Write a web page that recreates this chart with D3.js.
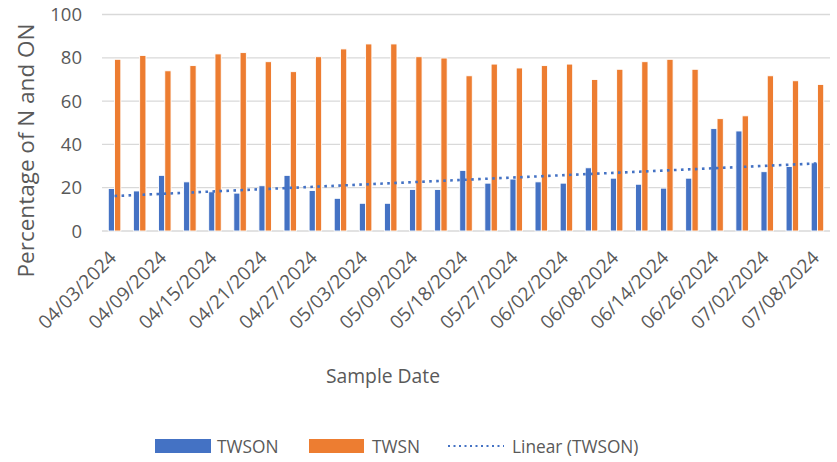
<!DOCTYPE html>
<html>
<head>
<meta charset="utf-8">
<script src="https://cdn.jsdelivr.net/npm/d3@7"></script>
<style>
  body { margin: 0; background: #fff; }
  svg text { font-family: "Open Sans", sans-serif; fill: #595959; }
</style>
</head>
<body>
<div id="chart"></div>
<script>
// sample dates (every other one is labelled on the axis)
var dates = ["04/03/2024", "04/06/2024", "04/09/2024", "04/12/2024", "04/15/2024", "04/18/2024",
  "04/21/2024", "04/24/2024", "04/27/2024", "04/30/2024", "05/03/2024", "05/06/2024",
  "05/09/2024", "05/13/2024", "05/18/2024", "05/22/2024", "05/27/2024", "05/30/2024",
  "06/02/2024", "06/05/2024", "06/08/2024", "06/11/2024", "06/14/2024", "06/20/2024",
  "06/26/2024", "06/29/2024", "07/02/2024", "07/05/2024", "07/08/2024"];

var twson = [19.6, 18.5, 25.7, 22.7, 18.1, 17.5, 20.9, 25.7, 18.7, 15.1, 12.8, 12.8, 19.2, 19.2,
  28.0, 22.1, 24.0, 22.7, 22.1, 29.2, 24.4, 21.6, 19.8, 24.4, 47.3, 46.2, 27.4, 29.8, 31.5];

var twsn = [79.3, 81.1, 74.0, 76.4, 81.8, 82.4, 78.2, 73.6, 80.5, 84.1, 86.4, 86.4, 80.5, 79.9,
  71.7, 77.1, 75.3, 76.4, 77.1, 70.0, 74.7, 78.2, 79.3, 74.7, 51.9, 53.2, 71.7, 69.4, 67.7];

var seriesNames = ["TWSON", "TWSN"];
var yTicks = [0, 20, 40, 60, 80, 100];

var width = 837, height = 462;
var colour = { TWSON: "#4472C4", TWSN: "#ED7D31" };

var svg = d3.select("#chart").append("svg")
  .attr("width", width)
  .attr("height", height);

var x0 = d3.scaleBand()
  .domain(dates)
  .range([102, 830])
  .paddingInner(0.5)
  .paddingOuter(0.25);

var x1 = d3.scaleBand()
  .domain(seriesNames)
  .range([0, x0.bandwidth()]);

var y = d3.scaleLinear()
  .domain([0, 100])
  .range([231, 14.5]);

// gridlines
svg.append("g")
  .selectAll("line")
  .data(yTicks)
  .enter()
  .append("line")
  .attr("x1", 102)
  .attr("x2", 830)
  .attr("y1", function(d) { return y(d); })
  .attr("y2", function(d) { return y(d); })
  .attr("stroke", "#d9d9d9")
  .attr("stroke-width", 1.3);

// y tick labels
svg.append("g")
  .selectAll("text")
  .data(yTicks)
  .enter()
  .append("text")
  .attr("x", 82)
  .attr("y", function(d) { return y(d); })
  .attr("dy", "0.36em")
  .attr("text-anchor", "end")
  .attr("font-size", "18.5px")
  .text(function(d) { return d; });

// bars
var rows = dates.map(function(d, i) {
  return { date: d, TWSON: twson[i], TWSN: twsn[i] };
});

var groups = svg.append("g")
  .selectAll("g")
  .data(rows)
  .enter()
  .append("g")
  .attr("transform", function(d) { return "translate(" + x0(d.date) + ",0)"; });

groups.selectAll("rect")
  .data(function(d) {
    return seriesNames.map(function(k) { return { key: k, value: d[k] }; });
  })
  .enter()
  .append("rect")
  .attr("x", function(d) { return x1(d.key); })
  .attr("width", x1.bandwidth())
  .attr("y", function(d) { return y(d.value); })
  .attr("height", function(d) { return y(0) - y(d.value); })
  .attr("fill", function(d) { return colour[d.key]; })
  .attr("stroke", "#fff")
  .attr("stroke-width", 0.9);

// linear trend of TWSON (least squares)
var n = twson.length;
var xs = d3.range(1, n + 1);
var mx = d3.mean(xs), my = d3.mean(twson);
var slope = d3.sum(xs, function(v, i) { return (v - mx) * (twson[i] - my); }) /
  d3.sum(xs, function(v) { return (v - mx) * (v - mx); });
var intercept = my - slope * mx;

var cx = function(d) { return x0(d) + x0.bandwidth() / 2; };

svg.append("line")
  .attr("x1", cx(dates[0]))
  .attr("x2", cx(dates[n - 1]))
  .attr("y1", y(intercept + slope * 1))
  .attr("y2", y(intercept + slope * n))
  .attr("stroke", "#4472C4")
  .attr("stroke-width", 2.6)
  .attr("stroke-dasharray", "2.6,4.4");

// x tick labels, every other date
svg.append("g")
  .selectAll("text")
  .data(dates.filter(function(d, i) { return i % 2 === 0; }))
  .enter()
  .append("text")
  .attr("transform", function(d) { return "translate(" + (cx(d) + 3) + ",259) rotate(-45)"; })
  .attr("text-anchor", "end")
  .attr("font-size", "19px")
  .text(function(d) { return d; });

// axis titles
svg.append("text")
  .attr("transform", "translate(34,150.5) rotate(-90)")
  .attr("text-anchor", "middle")
  .attr("font-size", "22.5px")
  .text("Percentage of N and ON");

svg.append("text")
  .attr("x", 383)
  .attr("y", 383)
  .attr("text-anchor", "middle")
  .attr("font-size", "19.3px")
  .text("Sample Date");

// legend
var legend = svg.append("g");

legend.append("rect").attr("x", 155).attr("y", 439).attr("width", 56).attr("height", 14)
  .attr("fill", colour.TWSON);
legend.append("text").attr("x", 217).attr("y", 453).attr("font-size", "17.3px").text("TWSON");

legend.append("rect").attr("x", 309).attr("y", 439).attr("width", 55).attr("height", 14)
  .attr("fill", colour.TWSN);
legend.append("text").attr("x", 372).attr("y", 453).attr("font-size", "17.3px").text("TWSN");

legend.append("line").attr("x1", 448).attr("x2", 504).attr("y1", 446).attr("y2", 446)
  .attr("stroke", "#4472C4").attr("stroke-width", 2)
  .attr("stroke-dasharray", "2,3.5");
legend.append("text").attr("x", 512).attr("y", 453).attr("font-size", "17.3px").text("Linear (TWSON)");
</script>
</body>
</html>
